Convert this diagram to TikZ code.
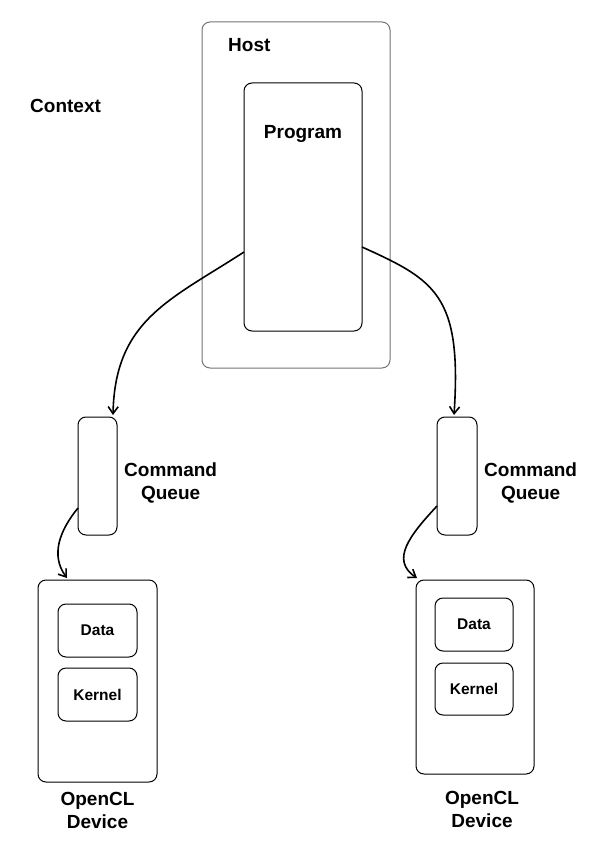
\documentclass[tikz,border=0pt]{standalone}
\usepackage{fontspec}
\setmainfont{Liberation Sans}
\usetikzlibrary{positioning}
\usetikzlibrary{arrows.meta}

\begin{document}
\begin{tikzpicture}[x=1pt,y=-1pt,
                    box/.style={draw=black,
                                rounded corners=8pt,
                                line width=1pt,
                                inner sep=0mm,outer sep=0,
                               },
                    hostbox/.style={box,draw=black!55},
                    lbl/.style={font=\fontsize{19}{23}\selectfont\bfseries,
                                inner sep=0mm,align=center},
                    boxtext/.style={font=\fontsize{15.5}{18}\selectfont\bfseries,
                                inner sep=0mm},
                    flow/.style={line width=1.6pt,
                                 ->,
                                 >={Straight Barb[length=7pt,width=10pt]}
                                }
                   ]
\useasboundingbox (0,0) rectangle (609,850);

% host side
\node[hostbox,minimum width=188pt,minimum height=346pt] (host) at (296,195) { };
\node[box,minimum width=118pt,minimum height=248pt] (program) at (303,207) { };
\node[lbl,anchor=north west,below right=16pt and 26pt of host.north west] (hostlbl) {Host};
\node[lbl,anchor=north,below=42pt of program.north] (proglbl) {Program};
\node[lbl,anchor=base west] (ctxlbl) at (30,113) {Context};

% command queues
\node[box,minimum width=39pt,minimum height=118pt] (cqleft) at (97.5,476) { };
\node[box,minimum width=40pt,minimum height=118pt] (cqright) at (457,476) { };
\node[lbl,right=7pt of cqleft,yshift=-7pt] (cqleftlbl) {Command\\Queue};
\node[lbl,right=7pt of cqright,yshift=-7pt] (cqrightlbl) {Command\\Queue};

% devices
\node[box,minimum width=119pt,minimum height=202pt] (devleft) at (97.5,681) { };
\node[box,minimum width=79pt,minimum height=53pt] (dataleft) at (97.5,630.5) { };
\node[box,minimum width=79pt,minimum height=53pt] (kernleft) at (97.5,694.5) { };
\node[boxtext] at (dataleft) {Data};
\node[boxtext] at (kernleft) {Kernel};
\node[lbl,below=10pt of devleft] (devleftlbl) {OpenCL\\Device};

\node[box,minimum width=118pt,minimum height=194pt] (devright) at (475,677) { };
\node[box,minimum width=78pt,minimum height=53pt] (dataright) at (474,624.5) { };
\node[box,minimum width=78pt,minimum height=52pt] (kernright) at (474,689) { };
\node[boxtext] at (dataright) {Data};
\node[boxtext] at (kernright) {Kernel};
\node[lbl,below=17pt of devright,xshift=7pt] (devrightlbl) {OpenCL\\Device};

% connections
\draw[flow] ([yshift=-45pt]program.west) .. controls (170,300) and (115,320) .. ([xshift=15.5pt,yshift=2pt]cqleft.north);
\draw[flow] ([yshift=-40pt]program.east) .. controls (435,280) and (462,295) .. ([xshift=-3pt,yshift=2pt]cqright.north);
\draw[flow] ([yshift=-32pt]cqleft.west) .. controls (60,530) and (50,555) .. ([xshift=29pt,yshift=2pt]devleft.north west);
\draw[flow] ([yshift=-30pt]cqright.west) .. controls (410,535) and (390,560) .. ([xshift=1pt,yshift=2pt]devright.north west);
\end{tikzpicture}
\end{document}
